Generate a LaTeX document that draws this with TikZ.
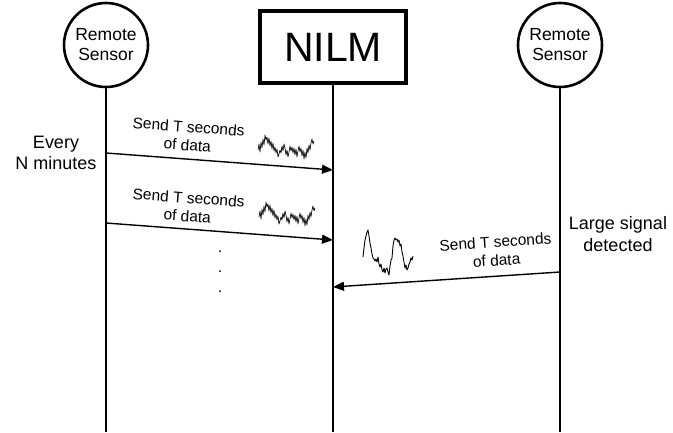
\documentclass[tikz,border=0pt]{standalone}
\usepackage{fontspec}
\setmainfont{Liberation Sans}
\usetikzlibrary{arrows.meta}

\tikzset{
  sensor/.style={circle, draw, line width=2.6pt, minimum size=84pt, inner sep=0pt,
    align=center, font=\fontsize{17.5}{20}\selectfont},
  meter/.style={draw, line width=3.5pt, minimum width=146pt, minimum height=72pt,
    inner sep=0pt, font=\fontsize{41}{41}\selectfont},
  lifeline/.style={line width=1.3pt},
  msg/.style={line width=1.4pt, -{Triangle[length=11pt,width=9pt]}},
  msglabel/.style={align=center, font=\fontsize{15.5}{18.5}\selectfont, inner sep=0pt},
  sidelabel/.style={align=center, font=\fontsize{18}{21.5}\selectfont, inner sep=0pt},
  wave/.style={line width=0.9pt, line join=round},
  thinwave/.style={line width=0.65pt, line join=round},
  smallwave/.pic={
    \draw[thinwave] (0,3) -- (1,-3) -- (2,5) -- (3,-5) -- (4,1) -- (5,-8)
      -- (6,-2) -- (7,-12) -- (8,-7) -- (9,-10) -- (10,-3) -- (11,-9)
      -- (12,-1) -- (13,-6) -- (14,2) -- (15,-4) -- (16,4) -- (17,0)
      -- (18,6) -- (19,2) -- (20,10) -- (21,7) -- (22,3) -- (23,6)
      -- (24,-1) -- (25,4) -- (26,-3) -- (27,1) -- (28,8) -- (29,3)
      -- (30,10) -- (31,5) -- (32,-1) -- (33,4) -- (34,0) -- (35,6)
      -- (36,1) -- (37,8) -- (38,2) -- (39,10) -- (40,4) -- (41,-1)
      -- (42,5) -- (43,1) -- (44,9) -- (45,3) -- (46,12) -- (47,5)
      -- (48,11) -- (49,1) -- (50,6) -- (51,-2) -- (52,3) -- (53,-4)
      -- (54,-8) -- (55,-3) -- (56,-6);
  }
}

\begin{document}
\begin{tikzpicture}[x=1pt, y=-1pt]
  \useasboundingbox (0,0) rectangle (673,432);

  % participants
  \node[sensor] (L) at (106,45) {Remote\\Sensor};
  \node[meter]  (N) at (333,47) {NILM};
  \node[sensor] (R) at (560,45) {Remote\\Sensor};

  % lifelines
  \coordinate (Lb) at (106,432);
  \coordinate (Nb) at (333,432);
  \coordinate (Rb) at (560,432);
  \draw[lifeline] (L.south) -- (Lb);
  \draw[lifeline] (N.south) -- (Nb);
  \draw[lifeline] (R.south) -- (Rb);

  % message end points on the lifelines
  \coordinate (m1s) at (106,153);
  \coordinate (m1e) at (333,170);
  \coordinate (m2s) at (106,223);
  \coordinate (m2e) at (333,240);
  \coordinate (m3s) at (560,272);
  \coordinate (m3e) at (333,287);

  % periodic uploads
  \draw[msg] (m1s) -- (m1e);
  \node[msglabel, rotate=-4.3] (t1) at (188,136) {Send T seconds\\of data};
  \pic at (258,147) {smallwave};

  \draw[msg] (m2s) -- (m2e);
  \node[msglabel, rotate=-4.3] (t2) at (188,207) {Send T seconds\\of data};
  \pic at (259,214) {smallwave};

  % continuation dots
  \foreach \y/\n in {251/d1, 271/d2, 291/d3}
    \fill (220,\y) circle (1pt) coordinate (\n);

  % event-triggered upload
  \draw[msg] (m3s) -- (m3e);
  \node[msglabel, rotate=3.8] (t3) at (496,251) {Send T seconds\\of data};
  \draw[wave] (363,257) -- (364,248) -- (365,240) -- (366,236) -- (367,232)
    -- (368,230) -- (369,236) -- (370,243) -- (371,248) -- (372,254) -- (373,258)
    -- (374,259) -- (375,261) -- (376,259) -- (377,262) -- (378,257) -- (379,264)
    -- (380,267) -- (381,264) -- (382,270) -- (383,272) -- (384,268) -- (385,273)
    -- (386,269) -- (387,268) -- (388,272) -- (389,275) -- (390,266) -- (391,260)
    -- (392,258) -- (393,246) -- (394,240) -- (395,238) -- (396,240) -- (397,239)
    -- (398,242) -- (399,240) -- (400,246) -- (401,244) -- (402,252) -- (403,256)
    -- (404,262) -- (405,268) -- (406,265) -- (407,270) -- (408,268) -- (409,264)
    -- (410,262) -- (411,258) -- (412,260) -- (413,256);

  % side annotations
  \node[sidelabel] (every) at (56,153) {Every\\N minutes};
  \node[sidelabel] (large) at (618,234) {Large signal\\detected};
\end{tikzpicture}
\end{document}
